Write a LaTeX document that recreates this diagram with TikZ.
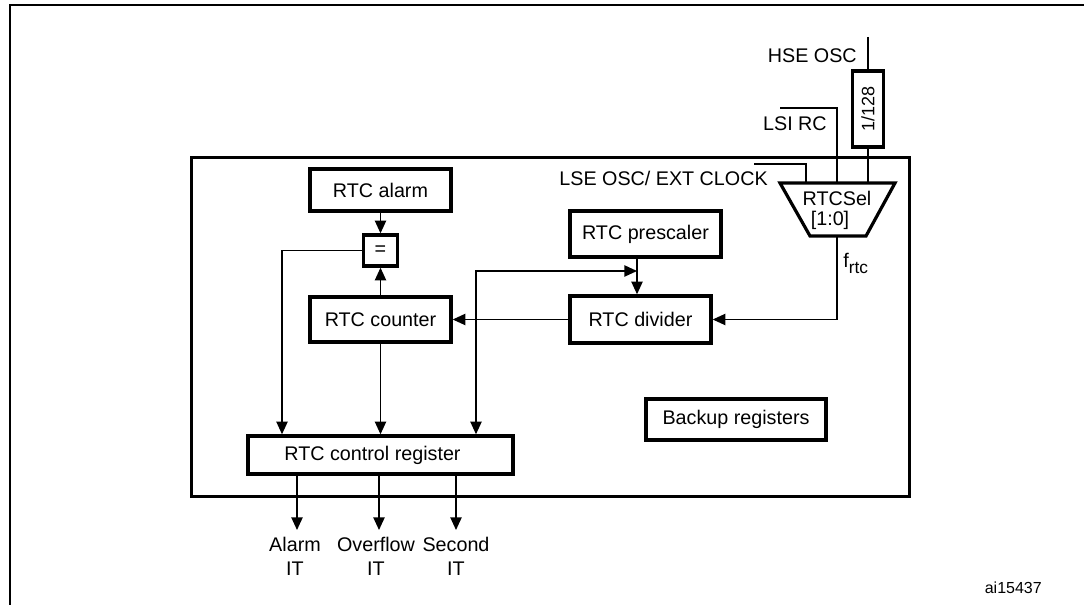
\documentclass[tikz,border=0pt]{standalone}
\usepackage{fontspec}
\setmainfont{Liberation Sans}
\usetikzlibrary{arrows.meta,calc}
\begin{document}
\begin{tikzpicture}[x=0.75pt,y=-0.75pt,
  font=\fontsize{14.8pt}{18pt}\selectfont,
  >={Triangle[length=9.5pt,width=8.5pt]},
  box/.style={draw,line width=2.6pt,inner sep=0pt,align=center},
  wire/.style={line width=1pt},
  arr/.style={wire,->},
  lbl/.style={inner sep=0pt}]
\useasboundingbox (0,0) rectangle (1084,605);
% outer frame (cut)
\draw[line width=1.5pt] (10,605) -- (10,5) -- (1084,5);
% main box
\node[box,line width=2.9pt,minimum width=538.5pt,minimum height=254.25pt] (main) at (550.5,327) {};
% blocks
\node[box,minimum width=105.75pt,minimum height=31.5pt] (alarm) at (380.5,190) {RTC alarm};
\node[box,minimum width=25.5pt,minimum height=23.25pt] (eq) at (380.5,250.5) {=};
\node[box,minimum width=105.75pt,minimum height=33.75pt] (counter) at (380.5,319.5) {RTC counter};
\node[box,minimum width=198.75pt,minimum height=28.5pt] (ctrl) at (380.5,455) {RTC control register\hspace*{12pt}};
\node[box,minimum width=113.25pt,minimum height=34.5pt] (presc) at (645.5,234) {RTC prescaler};
\node[box,minimum width=105.75pt,minimum height=35.25pt] (div) at (640.5,319.5) {RTC divider};
\node[box,minimum width=135pt,minimum height=30.75pt] (backup) at (736,419.5) {Backup registers};
\node[box,minimum width=23.25pt,minimum height=57pt] (d128) at (868,109) {\rotatebox{90}{\fontsize{13.5pt}{15pt}\selectfont 1/128}};
% selector
\draw[line width=2.4pt,line join=miter] (780,183) -- (895,183) -- (866,236) -- (810,236) -- cycle;
\node[lbl,align=center,font=\fontsize{14.8pt}{15pt}\selectfont] (sel) at (837,210) {RTCSel\\{}[1:0]\hspace*{10.5pt}};
\coordinate (selL) at (806,183);
\coordinate (selM) at (837,183);
\coordinate (selR) at (868,183);
\coordinate (selB) at (837,236);
\coordinate (lseS) at (754,164);
\coordinate (lsiS) at (780,108);
\coordinate (hseS) at (868,37);
% inputs
\draw[wire] (lseS) -| (selL);
\draw[wire] (lsiS) -| (selM);
\draw[wire] (hseS) -- (d128.north);
\draw[wire] (d128.south) -- (selR);
\node[lbl,anchor=base east] (hse) at (857,63) {HSE OSC};
\node[lbl,anchor=base east] (lsi) at (827,131) {LSI RC};
\node[lbl,anchor=base east] (lse) at (768,186) {LSE OSC/ EXT CLOCK};
\node[lbl,anchor=base west] (frtc) at (843,268) {f\raisebox{-4pt}{\fontsize{13pt}{13pt}\selectfont rtc}};
% connectors
\coordinate (xA) at (282,250);
\coordinate (xC) at (476,271);
\coordinate (busE) at (637,271);
\draw[arr] (alarm.south) -- (eq.north);
\draw[arr] (counter.north) -- (eq.south);
\draw[arr] (eq.west) -| (ctrl.north -| xA);
\draw[arr] (counter.south) -- (counter.south |- ctrl.north);
\draw[wire,<->] (busE) -| (ctrl.north -| xC);
\draw[arr] (presc.south -| busE) -- (div.north -| busE);
\draw[arr] (div.west) -- (counter.east);
\draw[arr] (selB) |- (div.east);
% outputs
\node[lbl,align=center,anchor=north] (aIT) at (295,537) {Alarm\\IT};
\node[lbl,align=center,anchor=north] (oIT) at (376,537) {Overflow\\IT};
\node[lbl,align=center,anchor=north] (sIT) at (456,537) {Second\\IT};
\coordinate (o1) at (297,530);
\coordinate (o2) at (379,530);
\coordinate (o3) at (456,530);
\draw[arr] (ctrl.south -| o1) -- (o1);
\draw[arr] (ctrl.south -| o2) -- (o2);
\draw[arr] (ctrl.south -| o3) -- (o3);
\node[lbl,anchor=base east,font=\fontsize{12pt}{14pt}\selectfont] (id) at (1042,593) {ai15437};
\end{tikzpicture}
\end{document}
